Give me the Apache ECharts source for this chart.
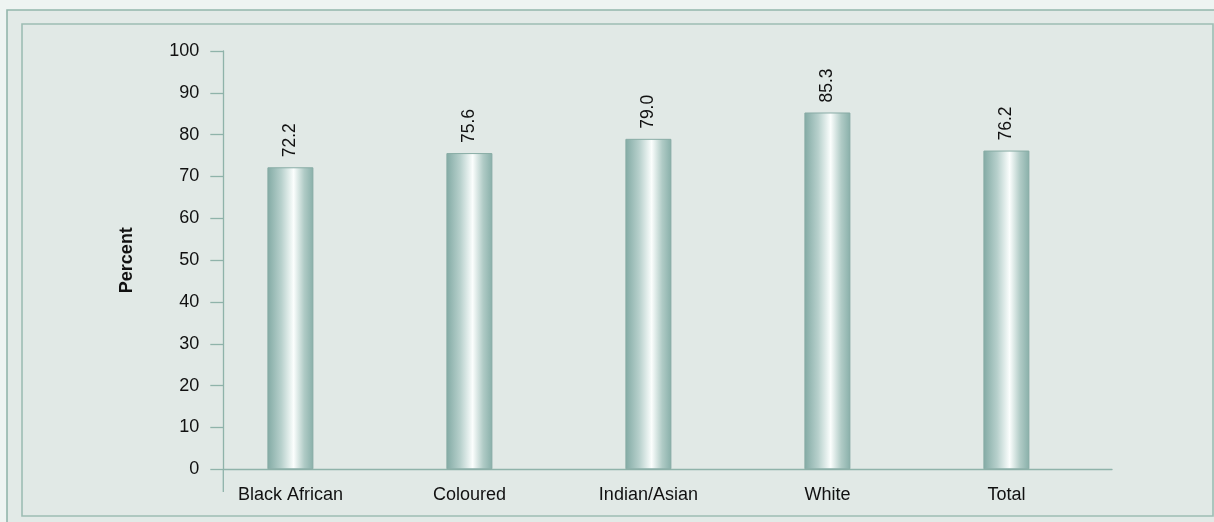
<!DOCTYPE html>
<html>
<head>
<meta charset="utf-8">
<script src="https://cdn.jsdelivr.net/npm/echarts@6/dist/echarts.min.js"></script>
<style>
  html, body { margin: 0; padding: 0; background: #eef4f2; }
  #chart { width: 1214px; height: 522px; }
</style>
</head>
<body>
<div id="chart"></div>
<script>
const categories = ['Black African', 'Coloured', 'Indian/Asian', 'White', 'Total'];
const values = [72.2, 75.6, 79.0, 85.3, 76.2];
const yTicks = { min: 0, max: 100, interval: 10 };
const yAxisName = 'Percent';

const FONT = 'Liberation Sans, Arial, sans-serif';
const TEXT = '#111111';
const AXIS = '#8fb3aa';
const TOP = 51, BOTTOM = 522 - 469.3;
const AXIS_LEFT = 223.3, AXIS_RIGHT = 1112;
const BAND_LEFT = 200.9, BAND_RIGHT = 1095.9;

const chart = echarts.init(document.getElementById('chart'), null, { renderer: 'canvas' });

const option = {
  backgroundColor: 'transparent',
  animation: false,
  graphic: [
    { type: 'rect', z: -10, silent: true,
      shape: { x: 7, y: 10, width: 1240, height: 540 },
      style: { fill: '#e2eae7', stroke: '#93b6ac', lineWidth: 1.6 } },
    { type: 'rect', z: -9, silent: true,
      shape: { x: 22, y: 24, width: 1191, height: 492 },
      style: { fill: '#e1e9e6', stroke: '#9dbdb4', lineWidth: 1.6 } },
    { type: 'line', z: 5, silent: true,
      shape: { x1: AXIS_LEFT, y1: 469.3, x2: AXIS_LEFT, y2: 492 },
      style: { stroke: AXIS, lineWidth: 1.3 } }
  ],
  grid: [
    { left: AXIS_LEFT, right: 1214 - AXIS_RIGHT, top: TOP, bottom: BOTTOM },
    { left: BAND_LEFT, right: 1214 - BAND_RIGHT, top: TOP, bottom: BOTTOM }
  ],
  xAxis: [
    { gridIndex: 0, type: 'value', min: 0, max: 1,
      axisLine: { show: true, onZero: false, lineStyle: { color: AXIS, width: 1.3 } },
      axisTick: { show: false }, axisLabel: { show: false }, splitLine: { show: false } },
    { gridIndex: 1, type: 'category', data: categories, boundaryGap: true,
      axisLine: { show: false }, axisTick: { show: false }, splitLine: { show: false },
      axisLabel: { fontFamily: FONT, fontSize: 18, color: TEXT, margin: 17, interval: 0 } }
  ],
  yAxis: [
    { gridIndex: 0, type: 'value', min: yTicks.min, max: yTicks.max, interval: yTicks.interval,
      name: yAxisName, nameLocation: 'middle', nameRotate: 90, nameGap: 87,
      nameTextStyle: { fontFamily: FONT, fontSize: 18, fontWeight: 'bold', color: TEXT },
      axisLine: { show: true, lineStyle: { color: AXIS, width: 1.3 } },
      axisTick: { show: true, inside: false, length: 13, lineStyle: { color: AXIS, width: 1.3 } },
      axisLabel: { fontFamily: FONT, fontSize: 18, color: TEXT, margin: 24 },
      splitLine: { show: false } },
    { gridIndex: 1, type: 'value', min: yTicks.min, max: yTicks.max, show: false,
      splitLine: { show: false } }
  ],
  series: [{
    type: 'bar',
    xAxisIndex: 1, yAxisIndex: 1,
    data: values,
    barWidth: 46,
    itemStyle: {
      color: new echarts.graphic.LinearGradient(0, 0, 1, 0, [
        { offset: 0, color: '#82aaa4' },
        { offset: 0.3, color: '#b7d0cc' },
        { offset: 0.57, color: '#fbfefd' },
        { offset: 0.8, color: '#b0cbc6' },
        { offset: 1, color: '#88afa9' }
      ]),
      borderColor: '#88aca5',
      borderWidth: 1
    },
    label: {
      show: true,
      position: 'top',
      rotate: 90,
      align: 'left',
      verticalAlign: 'middle',
      distance: 10,
      formatter: (p) => p.value.toFixed(1),
      fontFamily: FONT, fontSize: 17.5, color: TEXT
    }
  }]
};
chart.setOption(option);
</script>
</body>
</html>
